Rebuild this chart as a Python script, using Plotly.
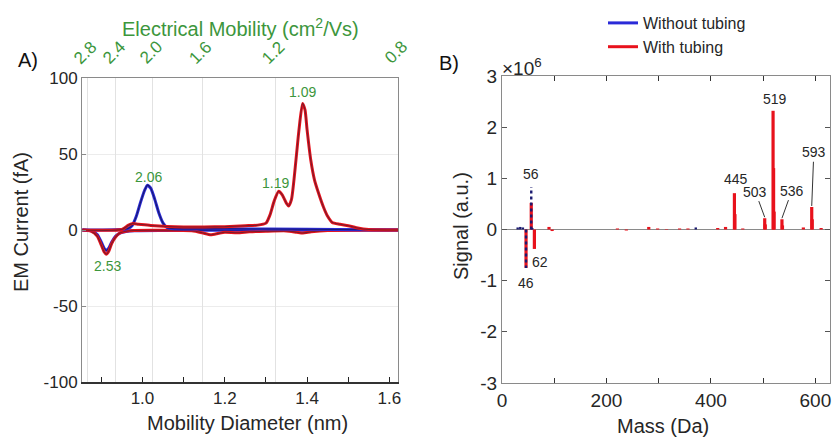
import plotly.graph_objects as go
import numpy as np

# ---------------- Panel A data ----------------
blue_pos_d = [0.854, 0.90, 0.95, 0.965, 0.975, 0.985, 0.995, 1.005, 1.012, 1.02, 1.03, 1.04, 1.05, 1.06, 1.08, 1.2, 1.4, 1.55, 1.621]
blue_pos = [0, 0, 0.3, 1, 3, 9, 18, 26, 29.5, 27.5, 20, 11, 4.5, 1.5, 0.8, 0.8, 0.5, 0.2, 0]

blue_neg_d = [0.854, 0.875, 0.89, 0.90, 0.907, 0.912, 0.918, 0.925, 0.935, 0.945, 0.96, 0.98, 1.05, 1.2, 1.4, 1.621]
blue_neg = [0, -0.5, -3, -8, -12, -13.5, -12, -8, -4, -2, -1, -0.5, -0.3, -0.2, -0.2, 0]

red_neg_d = [0.854, 0.875, 0.89, 0.90, 0.907, 0.912, 0.918, 0.925, 0.935, 0.945, 0.96, 0.98, 1.05, 1.12, 1.145,
             1.166, 1.185, 1.2, 1.23, 1.26, 1.3, 1.35, 1.375, 1.39, 1.41, 1.45, 1.621]
red_neg = [0, -0.8, -4, -10, -14.5, -16, -14, -9, -4.5, -2, -0.8, -0.3, -0.2, -0.5, -1.8,
           -3.2, -2.2, -1.5, -1.8, -1.2, -0.8, -0.6, -1.5, -2, -1.2, -0.3, 0]

red_pos_d = [0.854, 0.95, 0.965, 0.975, 0.99, 1.02, 1.06, 1.1, 1.15, 1.2, 1.25, 1.28, 1.30, 1.31, 1.32, 1.331,
             1.34, 1.35, 1.355, 1.362, 1.373, 1.38, 1.389, 1.395, 1.40, 1.409, 1.418, 1.427, 1.44, 1.45, 1.461,
             1.48, 1.50, 1.52, 1.55, 1.621]
red_pos = [0, 0.3, 3, 4.2, 3.8, 3, 2.3, 2, 2, 2.2, 2.8, 3.2, 4.5, 10, 19, 25.5,
           23, 17.5, 15.8, 20, 46, 65, 83.3, 79, 66, 46, 33, 25, 15, 9, 5,
           3.8, 2.8, 1.5, 0.3, 0]

# peak labels (electrical mobility), with label positions (diameter, current)
peakA_text = ["2.06", "2.53", "1.19", "1.09"]
peakA_x = [1.014, 0.914, 1.323, 1.389]
peakA_y = [35, -24, 31, 91]

# top axis: electrical mobility ticks
mobility_ticks = [2.8, 2.4, 2.0, 1.6, 1.2, 0.8]
K_MOB = 2.1  # Z ~ K / d^2

bottomA_tickvals = [1.0, 1.2, 1.4, 1.6]
bottomA_ticktext = ["1.0", "1.2", "1.4", "1.6"]
bottomA_minor = [0.9, 1.1, 1.3, 1.5]
leftA_tickvals = [-100, -50, 0, 50, 100]
leftA_ticktext = ["-100", "-50", "0", "50", "100"]

# ---------------- Panel B data ----------------
red_mass = [46, 56, 62, 90, 96, 221, 238, 281, 298, 315, 340, 356, 413, 428, 445, 446, 461,
            503, 504, 519, 520, 521, 536, 537, 577, 593, 594, 611]
red_sig = [-0.75, 0.52, -0.38, 0.05, -0.03, 0.02, -0.02, 0.05, 0.02, -0.01, 0.02, 0.02, 0.03, 0.05, 0.71, 0.3, 0.02,
           0.22, 0.1, 2.32, 1.2, 0.35, 0.2, 0.08, 0.04, 0.44, 0.2, 0.03]

blue_mass = [30, 35, 40, 46, 56, 58, 371]
blue_sig = [0.04, 0.05, 0.04, -0.75, 0.83, 0.03, 0.04]

peakB_text = ["56", "46", "62", "445", "503", "519", "536", "593"]
peakB_x = [56, 46, 62, 445, 503, 519, 536, 593]
peakB_y = [0.83, -0.75, -0.38, 0.71, 0.22, 2.32, 0.2, 0.44]
peakB_lx = [56, 46, 72, 448, 485, 523, 555, 597]
peakB_ly = [1.08, -1.04, -0.63, 0.99, 0.74, 2.55, 0.76, 1.51]
peakB_leader = [False, False, False, False, True, False, True, True]

yB_tickvals = [-3, -2, -1, 0, 1, 2, 3]
yB_ticktext = ["-3", "-2", "-1", "0", "1", "2", "3"]
xB_tickvals = [0, 200, 400, 600]
xB_ticktext = ["0", "200", "400", "600"]
xB_minor = [100, 300, 500]

# ---------------- styling ----------------
RED = "#e8121c"
RED_DARK = "#7a1c2c"
BLUE = "#2a2ad8"
BLUE_DARK = "#1a1a70"
GREEN = "#3c963c"
TXT = "#262626"
FONT = "Liberation Sans, Arial, sans-serif"

fig = go.Figure()

def add_curve(xs, ys, col, dark, name, show):
    fig.add_trace(go.Scatter(x=xs, y=ys, mode="lines", line=dict(color=col, width=3.0, shape="spline", smoothing=0.6),
                             name=name, showlegend=show, xaxis="x", yaxis="y", hoverinfo="skip"))
    fig.add_trace(go.Scatter(x=xs, y=ys, mode="lines", line=dict(color=dark, width=1.1, shape="spline", smoothing=0.6),
                             showlegend=False, xaxis="x", yaxis="y", hoverinfo="skip"))

add_curve(blue_neg_d, blue_neg, BLUE, BLUE_DARK, "Without tubing", False)
add_curve(red_neg_d, red_neg, RED, RED_DARK, "With tubing", False)
add_curve(blue_pos_d, blue_pos, BLUE, BLUE_DARK, "Without tubing", True)
add_curve(red_pos_d, red_pos, RED, RED_DARK, "With tubing", True)

# invisible trace on top axis so it renders
top_pos = [float(np.sqrt(K_MOB / z)) for z in mobility_ticks]
fig.add_trace(go.Scatter(x=top_pos, y=[None] * len(top_pos), mode="markers", xaxis="x3", yaxis="y",
                         showlegend=False, hoverinfo="skip"))

def stems(ms, vs):
    xs, ys = [], []
    for m, v in zip(ms, vs):
        xs += [m, m, None]
        ys += [0, v, None]
    return xs, ys

rx, ry = stems(red_mass, red_sig)
fig.add_trace(go.Scatter(x=rx, y=ry, mode="lines", line=dict(color=RED, width=3.2), xaxis="x2", yaxis="y2",
                         showlegend=False, hoverinfo="skip"))
bx, by = stems(blue_mass, blue_sig)
fig.add_trace(go.Scatter(x=bx, y=by, mode="lines", line=dict(color=BLUE_DARK, width=2.4, dash="dot"), xaxis="x2", yaxis="y2",
                         showlegend=False, hoverinfo="skip"))

annotations = []
for t, x, y in zip(peakA_text, peakA_x, peakA_y):
    annotations.append(dict(x=x, y=y, xref="x", yref="y", text=t, showarrow=False,
                            font=dict(size=14, color=GREEN, family=FONT)))
# top-axis tick labels (rotated), at the mobility positions
for z, p in zip(mobility_ticks, top_pos):
    annotations.append(dict(x=p, y=1 - 52 / 439, xref="x3", yref="paper", text=f"{z:.1f}", textangle=-45,
                            showarrow=False, xanchor="center", yanchor="middle", xshift=-2,
                            font=dict(size=17, color=GREEN, family=FONT)))
for t, x, y, lx, ly, ld in zip(peakB_text, peakB_x, peakB_y, peakB_lx, peakB_ly, peakB_leader):
    if ld:
        annotations.append(dict(x=x, y=y + 0.02, xref="x2", yref="y2", ax=lx, ay=ly, axref="x2", ayref="y2",
                                text=t, showarrow=True, arrowhead=0, arrowwidth=1, arrowcolor="#333333",
                                font=dict(size=14, color=TXT, family=FONT)))
    else:
        annotations.append(dict(x=lx, y=ly, xref="x2", yref="y2", text=t, showarrow=False,
                                font=dict(size=14, color=TXT, family=FONT)))

def ptxt(x, y, text, size, color=TXT, angle=0):
    return dict(x=x / 833, y=1 - y / 439, xref="paper", yref="paper", text=text, textangle=angle,
                xanchor="center", yanchor="middle", showarrow=False,
                font=dict(size=size, color=color, family=FONT))

# axis titles and panel labels
annotations += [
    ptxt(21, 222, "EM Current (fA)", 20, angle=-90),
    ptxt(247, 423, "Mobility Diameter (nm)", 20),
    ptxt(240, 27, "Electrical Mobility (cm<sup>2</sup>/Vs)", 20, color=GREEN),
    ptxt(461, 226, "Signal (a.u.)", 20, angle=-90),
    ptxt(663, 426, "Mass (Da)", 20),
    ptxt(522, 67, "×10<sup>6</sup>", 19),
    ptxt(28, 60, "A)", 20, color="#111111"),
    ptxt(449, 63, "B)", 20, color="#111111"),
]

axA_dom = [82 / 833, 398 / 833]
ayA_dom = [1 - 382 / 439, 1 - 78 / 439]
axB_dom = [502 / 833, 830 / 833]
ayB_dom = [1 - 383 / 439, 1 - 76 / 439]

GRID = "#e2e2e2"
AXL = "#8a8a8a"

fig.update_layout(
    width=833, height=439, margin=dict(l=0, r=0, t=0, b=0, autoexpand=False),
    paper_bgcolor="white", plot_bgcolor="white",
    font=dict(family=FONT, color=TXT),
    showlegend=True,
    legend=dict(x=603 / 833, y=1 - 6 / 439, xanchor="left", yanchor="top", bgcolor="rgba(0,0,0,0)",
                font=dict(size=16, color=TXT, family=FONT), tracegroupgap=0),
    annotations=annotations,
    xaxis=dict(domain=axA_dom, range=[0.853, 1.621], anchor="y", tickvals=bottomA_tickvals, ticktext=bottomA_ticktext,
               ticks="inside", ticklen=5, tickcolor="#222222", showgrid=False, zeroline=False, automargin=False,
               minor=dict(tickvals=bottomA_minor, ticks="inside", ticklen=5, tickcolor="#222222", showgrid=False),
               showline=True, linecolor="#333333", linewidth=1.5, mirror=False,
               tickfont=dict(size=17, color=TXT)),
    xaxis3=dict(overlaying="x", side="top", anchor="y", range=[0.853, 1.621], tickvals=top_pos,
                showticklabels=False, ticks="", automargin=False,
                showgrid=True, gridcolor=GRID, gridwidth=1, showline=True, linecolor=AXL, linewidth=1,
                zeroline=False),
    yaxis=dict(domain=ayA_dom, range=[-100, 100], anchor="x", tickvals=leftA_tickvals, ticktext=leftA_ticktext,
               ticks="inside", ticklen=4, tickcolor=AXL, showgrid=True, gridcolor="#ececec", zeroline=False,
               automargin=False,
               showline=True, linecolor=AXL, linewidth=1, mirror=True, tickfont=dict(size=17, color=TXT)),
    xaxis2=dict(domain=axB_dom, range=[0, 628], anchor="y2", tickvals=xB_tickvals, ticktext=xB_ticktext,
                ticks="inside", ticklen=5, tickcolor="#333333", mirror="ticks", showline=True, linecolor=AXL,
                minor=dict(tickvals=xB_minor, ticks="inside", ticklen=5, tickcolor="#333333", showgrid=False),
                automargin=False,
                linewidth=1, showgrid=False, zeroline=False, tickfont=dict(size=19, color=TXT)),
    yaxis2=dict(domain=ayB_dom, range=[-3, 3], anchor="x2", tickvals=yB_tickvals, ticktext=yB_ticktext,
                ticks="inside", ticklen=5, tickcolor="#555555", mirror="ticks", showline=True, linecolor=AXL,
                automargin=False,
                linewidth=1, showgrid=False, zeroline=True, zerolinecolor="#8a8a8a", zerolinewidth=1,
                tickfont=dict(size=19, color=TXT)),
)

fig.write_html("out.html")
